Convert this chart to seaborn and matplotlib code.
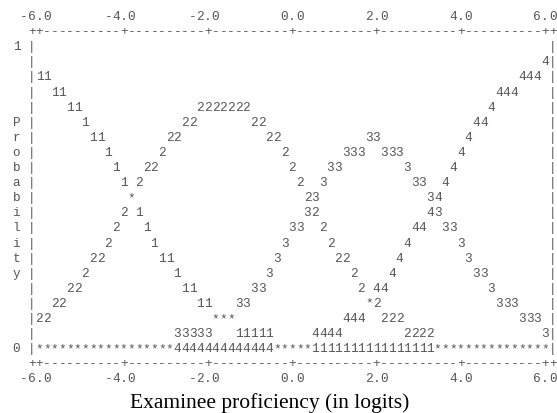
"""
Category probability curves (rating-scale model), drawn the way the
Winsteps console output prints them: one character per column / row.
"""

import numpy as np
import pandas as pd
import matplotlib
matplotlib.use("Agg")
import matplotlib.pyplot as plt
import seaborn as sns

# ── data ──────────────────────────────────────────────────────────────────────
# logit ticks on the horizontal axis
tick_values = [-6.0, -4.0, -2.0, 0.0, 2.0, 4.0, 6.0]
cols_per_logit = 5.5          # 11 character columns between two ticks

# vertical axis: probability 1 (top row) ... 0 (bottom row)
prob_top_label = "1"
prob_bottom_label = "0"
y_title = "Probability"       # written down the left side, one letter a row
y_title_first_row = 5

x_title = "Examinee proficiency (in logits)"

# curve characters, one entry per printed row: (first column, text)
curve_rows = [
    [],
    [(67, "4")],
    [(1, "11"), (64, "444")],
    [(3, "11"), (61, "444")],
    [(5, "11"), (22, "2222222"), (60, "4")],
    [(7, "1"), (20, "22"), (29, "22"), (58, "44")],
    [(8, "11"), (18, "22"), (31, "22"), (44, "33"), (57, "4")],
    [(10, "1"), (17, "2"), (33, "2"), (41, "333"), (46, "333"), (56, "4")],
    [(11, "1"), (15, "22"), (34, "2"), (39, "33"), (49, "3"), (55, "4")],
    [(12, "1"), (14, "2"), (35, "2"), (38, "3"), (50, "33"), (54, "4")],
    [(13, "*"), (36, "23"), (52, "34")],
    [(12, "2"), (14, "1"), (36, "32"), (52, "43")],
    [(11, "2"), (15, "1"), (34, "33"), (38, "2"), (50, "44"), (54, "33")],
    [(10, "2"), (16, "1"), (33, "3"), (39, "2"), (49, "4"), (56, "3")],
    [(8, "22"), (17, "11"), (32, "3"), (40, "22"), (48, "4"), (57, "3")],
    [(7, "2"), (19, "1"), (31, "3"), (42, "2"), (47, "4"), (58, "33")],
    [(5, "22"), (20, "11"), (29, "33"), (43, "2"), (45, "44"), (60, "3")],
    [(3, "22"), (22, "11"), (27, "33"), (44, "*2"), (61, "333")],
    [(1, "22"), (24, "***"), (41, "444"), (46, "222"), (64, "333")],
    [(19, "33333"), (27, "11111"), (37, "4444"), (49, "2222"), (67, "3")],
    [(1, "******************"), (19, "4444444444444"), (32, "*****"),
     (37, "1111111111111111"), (53, "***************")],
]

# ── build a character table ──────────────────────────────────────────────────
n_rows = len(curve_rows)
tick_cols = [int(round(1 + (v - tick_values[0]) * cols_per_logit)) for v in tick_values]
left_col, right_col = 0, tick_cols[-1] + 1

records = []
for r, segs in enumerate(curve_rows):
    for start, txt in segs:
        for i, ch in enumerate(txt):
            records.append((start + i, r, ch))
    # frame
    records.append((left_col, r, "|"))
    records.append((right_col, r, "|"))

# row labels on the left
records.append((-2, 0, prob_top_label))
records.append((-2, n_rows - 1, prob_bottom_label))
for i, ch in enumerate(y_title):
    records.append((-2, y_title_first_row + i, ch))

# top and bottom axis lines plus tick labels
for axis_row, label_row in [(-1, -2), (n_rows, n_rows + 1)]:
    for c in range(left_col, right_col + 1):
        ch = "+" if (c in tick_cols or c in (left_col, right_col)) else "-"
        records.append((c, axis_row, ch))
    for v, c in zip(tick_values, tick_cols):
        lab = f"{v:.1f}"
        dot = lab.index(".")
        for i, ch in enumerate(lab):
            records.append((c - dot + i, label_row, ch))

chars = pd.DataFrame(records, columns=["col", "row", "char"])

# ── draw ──────────────────────────────────────────────────────────────────────
sns.set_theme(style="white")

W, H = 557, 413
x0_px, col_px = 31.7, 7.66        # pixel centre of column 0, column width
y0_px, row_px = 46.0, 15.1        # pixel centre of row 0, row height

fig = plt.figure(figsize=(W / 100, H / 100), dpi=100)
ax = fig.add_axes([0, 0, 1, 1])
ax.set_xlim(-x0_px / col_px, (W - x0_px) / col_px)
ax.set_ylim((H - y0_px) / row_px, -y0_px / row_px)
ax.axis("off")

baseline_shift = 0.28             # digits sit centred on the row
for _, rec in chars.iterrows():
    ax.text(rec["col"], rec["row"] + baseline_shift, rec["char"],
            ha="center", va="baseline", family="Liberation Mono",
            fontsize=9.2, color="#555555")

ax.text((270 - x0_px) / col_px, (408 - y0_px) / row_px, x_title,
        ha="center", va="baseline", family="Liberation Serif",
        fontsize=15.5, color="black")

fig.savefig("out.png", dpi=100)
plt.close(fig)
